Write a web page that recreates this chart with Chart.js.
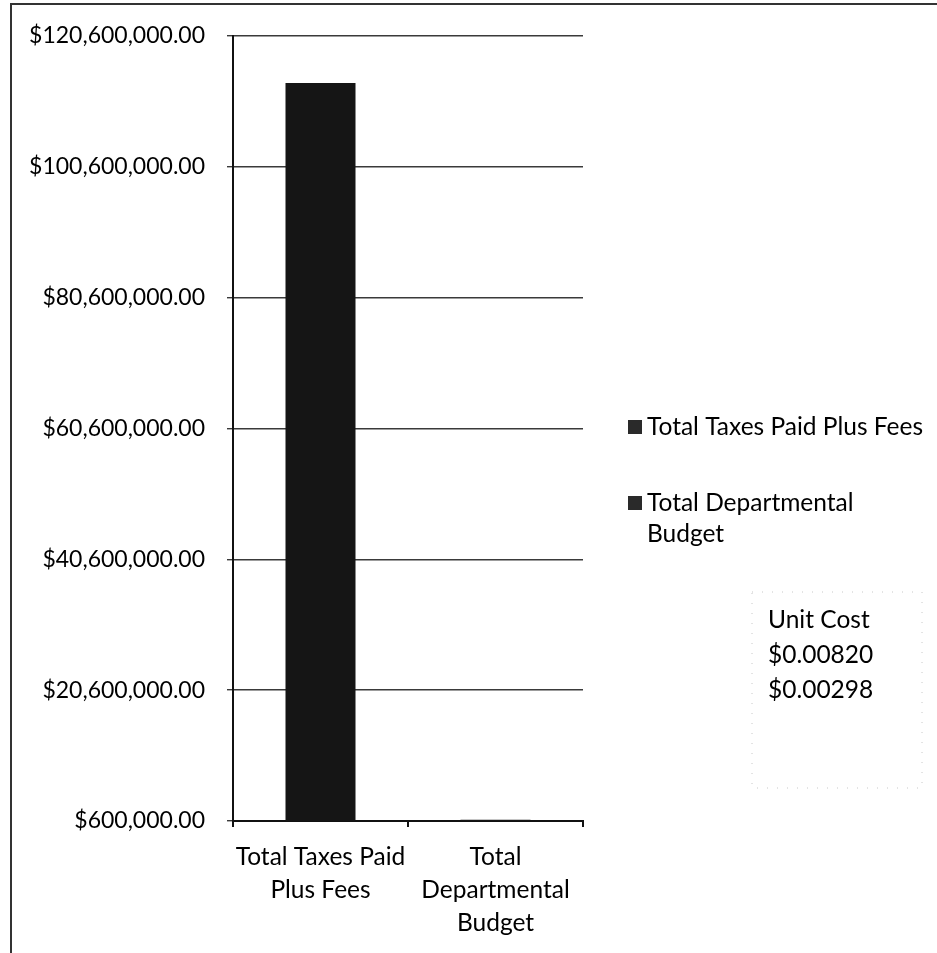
<!DOCTYPE html>
<html>
<head>
<meta charset="utf-8">
<script src="https://cdn.jsdelivr.net/npm/chart.js@4.4.1/dist/chart.umd.min.js"></script>
<style>
  html, body { margin: 0; background: #fff; }
  #wrap { width: 937px; height: 953px; }
</style>
</head>
<body>
<div id="wrap"><canvas id="costChart" width="937" height="953"></canvas></div>
<script>
// ---- data ----
const categories = [['Total Taxes Paid', 'Plus Fees'], ['Total', 'Departmental', 'Budget']];
const legendLines = [['Total Taxes Paid Plus Fees'], ['Total Departmental', 'Budget']];
const amounts = [113400000, 800000];
const axisMin = 600000;
const axisMax = 120600000;
const axisStep = 20000000;
const unitCostTitle = 'Unit Cost';
const unitCosts = ['$0.00820', '$0.00298'];

const FONT = 'Lato, "Open Sans", sans-serif';
const INK = '#000';

const money = (v) => '$' + v.toLocaleString('en-US', { minimumFractionDigits: 2, maximumFractionDigits: 2 });

// frame, legend and the unit cost note are painted on top of the chart
const extras = {
  id: 'extras',
  afterDraw(chart) {
    const ctx = chart.ctx;
    ctx.save();

    // outer frame (top + left edges visible)
    ctx.strokeStyle = '#333';
    ctx.lineWidth = 2;
    ctx.beginPath();
    ctx.moveTo(937, 4);
    ctx.lineTo(11, 4);
    ctx.lineTo(11, 953);
    ctx.stroke();

    // legend, one entry per bar
    ctx.font = '24.5px ' + FONT;
    ctx.textBaseline = 'middle';
    ctx.textAlign = 'left';
    const rowY = [427, 503];
    legendLines.forEach((lines, i) => {
      ctx.fillStyle = '#2a2a2a';
      ctx.fillRect(628, rowY[i] - 7, 14, 14);
      ctx.fillStyle = INK;
      lines.forEach((t, j) => ctx.fillText(t, 647, rowY[i] + j * 31));
    });

    // unit cost note
    ctx.strokeStyle = '#c8c8c8';
    ctx.lineWidth = 1;
    ctx.setLineDash([1, 9]);
    ctx.strokeRect(752, 592, 170, 196);
    ctx.setLineDash([]);
    ctx.font = '24.5px ' + FONT;
    ctx.fillStyle = INK;
    [unitCostTitle, ...unitCosts].forEach((t, i) => ctx.fillText(t, 768, 620 + i * 35));

    ctx.restore();
  }
};

new Chart(document.getElementById('costChart'), {
  type: 'bar',
  data: {
    labels: categories,
    datasets: [{
      label: 'Amount',
      data: amounts,
      backgroundColor: '#151515',
      borderWidth: 0,
      categoryPercentage: 1,
      barPercentage: 0.4,
    }],
  },
  options: {
    responsive: false,
    animation: false,
    layout: { padding: { left: 0, top: 35, right: 354, bottom: 0 } },
    plugins: {
      legend: { display: false },
      tooltip: { enabled: false },
    },
    scales: {
      x: {
        afterFit: (s) => { s.height = 132; },
        border: { color: '#111', width: 2 },
        grid: { drawOnChartArea: false, drawTicks: true, tickLength: 6, color: '#111', lineWidth: 2 },
        ticks: {
          color: INK,
          font: { family: FONT, size: 24.5, lineHeight: 1.36 },
          padding: 13,
          maxRotation: 0,
          autoSkip: false,
        },
      },
      y: {
        min: axisMin,
        max: axisMax,
        afterFit: (s) => { s.width = 233; },
        afterBuildTicks: (s) => {
          const ticks = [];
          for (let v = axisMin; v <= axisMax; v += axisStep) ticks.push({ value: v });
          s.ticks = ticks;
        },
        border: { color: '#111', width: 2 },
        grid: { color: '#3a3a3a', lineWidth: 1.4, tickLength: 6 },
        ticks: {
          color: INK,
          font: { family: FONT, size: 23 },
          padding: 22,
          callback: (v) => money(v),
        },
      },
    },
  },
  plugins: [extras],
});
</script>
</body>
</html>
